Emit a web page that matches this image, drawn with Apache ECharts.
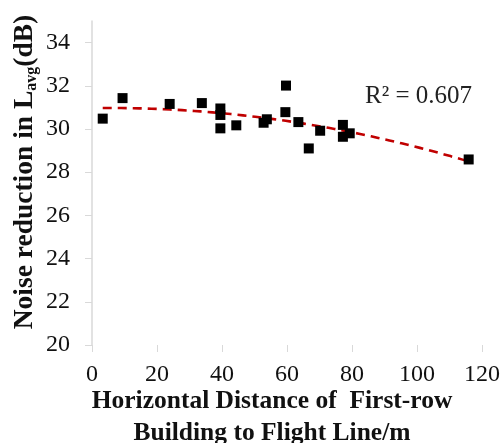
<!DOCTYPE html>
<html>
<head>
<meta charset="utf-8">
<style>
  html, body { margin: 0; padding: 0; background: #fff; }
  #chart { width: 502px; height: 443px; }
</style>
<script src="https://cdn.jsdelivr.net/npm/echarts@6/dist/echarts.min.js"></script>
</head>
<body>
<div id="chart"></div>
<script>
// Distance of first-row building to flight line (m)
const distance = [3.3, 9.4, 23.9, 33.8, 39.5, 39.5, 39.5, 44.4, 52.8, 53.8, 59.5, 59.7, 63.5, 66.7, 70.2, 77.2, 77.2, 79.3, 115.9];
// Noise reduction in L_avg (dB)
const reduction = [30.48, 31.43, 31.16, 31.2, 30.95, 30.65, 30.03, 30.17, 30.29, 30.45, 30.78, 32.01, 30.32, 29.1, 29.92, 30.19, 29.64, 29.8, 28.59];
const yTicks = [20, 22, 24, 26, 28, 30, 32, 34];
const xTicks = [0, 20, 40, 60, 80, 100, 120];
const rSquaredText = 'R\u00B2 = 0.607';

// Second-order polynomial least-squares fit of the measurements
function polyFit2(xs, ys) {
  let S = [0, 0, 0, 0, 0], T = [0, 0, 0];
  for (let i = 0; i < xs.length; i++) {
    let p = 1;
    for (let k = 0; k < 5; k++) { S[k] += p; if (k < 3) T[k] += p * ys[i]; p *= xs[i]; }
  }
  const A = [[S[0], S[1], S[2], T[0]], [S[1], S[2], S[3], T[1]], [S[2], S[3], S[4], T[2]]];
  for (let c = 0; c < 3; c++) {
    for (let r = c + 1; r < 3; r++) {
      const f = A[r][c] / A[c][c];
      for (let k = c; k < 4; k++) A[r][k] -= f * A[c][k];
    }
  }
  const coef = [0, 0, 0];
  for (let r = 2; r >= 0; r--) {
    let s = A[r][3];
    for (let k = r + 1; k < 3; k++) s -= A[r][k] * coef[k];
    coef[r] = s / A[r][r];
  }
  return coef;
}
const coef = polyFit2(distance, reduction);
const xMin = Math.min(...distance), xMax = Math.max(...distance);
const trend = [];
for (let i = 0; i <= 60; i++) {
  const x = xMin + (xMax - xMin) * i / 60;
  trend.push([x, coef[0] + coef[1] * x + coef[2] * x * x]);
}

const serif = '"Liberation Serif", "Times New Roman", serif';
const chart = echarts.init(document.getElementById('chart'));
chart.setOption({
  animation: false,
  backgroundColor: '#fff',
  grid: { left: 92, right: 20, top: 21, bottom: 98, containLabel: false, outerBoundsMode: 'none' },
  xAxis: {
    type: 'value', min: 0, max: 120, interval: 20,
    axisLine: { show: false },
    axisTick: { show: true, length: 7, lineStyle: { color: '#d9d9d9' }, customValues: xTicks },
    axisLabel: { margin: 18, fontFamily: serif, fontSize: 24, color: '#111', customValues: xTicks },
    splitLine: { show: false },
    name: 'Horizontal Distance of  First-row\nBuilding to Flight Line/m',
    nameLocation: 'middle', nameGap: 40, nameMoveOverlap: false,
    nameTextStyle: { fontFamily: serif, fontWeight: 'bold', fontSize: 25.5, lineHeight: 32, color: '#111', padding: [0, 30, 0, 0] }
  },
  yAxis: {
    type: 'value', min: 20, max: 35, interval: 2,
    axisLine: { show: true, lineStyle: { color: '#d9d9d9', width: 1.5 } },
    axisTick: { show: true, length: 7, lineStyle: { color: '#d9d9d9' }, customValues: yTicks },
    axisLabel: { margin: 22, fontFamily: serif, fontSize: 24, color: '#111', customValues: yTicks },
    splitLine: { show: false },
    name: '{t|Noise reduction in L}{s|avg}{t|(dB)}',
    nameLocation: 'middle', nameGap: 52, nameRotate: 90, nameMoveOverlap: false,
    nameTextStyle: {
      padding: [0, 0, 0, 22],
      rich: {
        t: { fontFamily: serif, fontWeight: 'bold', fontSize: 27.5, lineHeight: 30, color: '#111' },
        s: { fontFamily: serif, fontWeight: 'bold', fontSize: 16, lineHeight: 22, verticalAlign: 'bottom', color: '#111' }
      }
    }
  },
  graphic: [{
    type: 'text', left: 365, top: 84,
    style: { text: rSquaredText, font: '25px ' + serif, fill: '#222' }
  }],
  series: [
    {
      type: 'line', data: trend, showSymbol: false, smooth: false, z: 3,
      lineStyle: { color: '#c00000', width: 2.6, type: [9, 6] }
    },
    {
      type: 'scatter', data: distance.map((x, i) => [x, reduction[i]]),
      symbol: 'rect', symbolSize: 10, z: 4,
      itemStyle: { color: '#000', opacity: 1 }
    }
  ]
});
</script>
</body>
</html>
